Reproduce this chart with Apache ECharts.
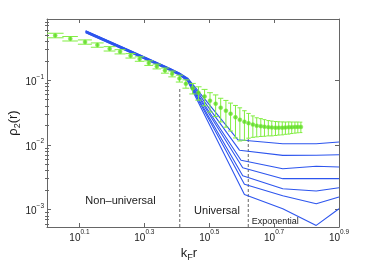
<!DOCTYPE html>
<html><head><meta charset="utf-8">
<script src="https://cdn.jsdelivr.net/npm/echarts@6/dist/echarts.min.js"></script>
<style>html,body{margin:0;padding:0;background:#fff}#c{width:366px;height:268px}</style>
</head><body><div id="c"></div>
<script>
// ---- axis ranges / ticks (exponents of 10) ----
const xLogRange = [0, 0.9];
const yLogRange = [-3.271, -0.051];
const xTickExps = [0.1, 0.3, 0.5, 0.7, 0.9];
const yTickExps = [-3, -2, -1];

// ---- measured data (green, with error bars) ----
const dataR = [1.06, 1.18, 1.31, 1.43, 1.56, 1.68, 1.81, 1.93, 2.06, 2.18, 2.31, 2.43, 2.56, 2.68, 2.81, 2.93, 3.06, 3.18, 3.31, 3.43, 3.56, 3.68, 3.81, 3.93, 4.06, 4.18, 4.31, 4.43, 4.56, 4.68, 4.81, 4.93, 5.06, 5.18, 5.31, 5.43, 5.56, 5.68, 5.81, 5.93, 6.06];
const dataRho = [0.495, 0.441, 0.392, 0.352, 0.308, 0.277, 0.240, 0.214, 0.185, 0.164, 0.142, 0.126, 0.107, 0.0885, 0.0755, 0.0643, 0.0563, 0.0483, 0.0434, 0.0377, 0.0338, 0.0304, 0.0268, 0.0245, 0.0228, 0.0217, 0.0206, 0.0198, 0.0195, 0.0191, 0.0188, 0.0186, 0.0185, 0.0185, 0.0185, 0.0186, 0.0187, 0.0188, 0.0189, 0.0190, 0.0190];
const dataErr = [0.04, 0.035, 0.03, 0.027, 0.024, 0.021, 0.019, 0.017, 0.015, 0.014, 0.013, 0.013, 0.013, 0.013, 0.014, 0.015, 0.016, 0.016, 0.016, 0.015, 0.015, 0.014, 0.014, 0.013, 0.011, 0.009, 0.0075, 0.0065, 0.006, 0.0055, 0.005, 0.0048, 0.0045, 0.0043, 0.0042, 0.004, 0.004, 0.0038, 0.0037, 0.0036, 0.0035];
const capHalfWidth = 0.065;

// ---- model curves (blue) ----
const trunkR = [1.316, 1.798, 2.389, 2.566, 2.715];
const kinkR = [3.872, 3.919, 3.963, 4.011, 4.011, 4.060, 4.060];
const tailR = [5.329, 6.758, 7.943];
const rho1 = [0.5855, 0.2924, 0.1538, 0.1288, 0.1078, 0.01204, 0.01044, 0.01044, 0.01109];
const rho2 = [0.5788, 0.2890, 0.1521, 0.1273, 0.1059, 0.00828, 0.006879, 0.006928, 0.007052];
const rho3 = [0.5720, 0.2856, 0.1503, 0.1258, 0.1040, 0.00580, 0.00428, 0.00468, 0.00455];
const rho4 = [0.5652, 0.2822, 0.1485, 0.1243, 0.1022, 0.00444, 0.00300, 0.00300, 0.00300];
const rho5 = [0.5584, 0.2788, 0.1467, 0.1228, 0.1003, 0.003336, 0.002099, 0.001934, 0.002175];
const rho6 = [0.5516, 0.2754, 0.1449, 0.1213, 0.0986, 0.002464, 0.001635, 0.00123, 0.001561];
const rho7 = [0.5449, 0.2720, 0.1432, 0.1198, 0.0969, 0.001713, 0.001029, 0.000567, 0.001029];
const modelRho = [rho1, rho2, rho3, rho4, rho5, rho6, rho7];

// ---- region boundaries (dashed) ----
const dashedR = [2.566, 4.172];
const dashedTop = [0.0782, 0.01315];

const L = Math.log10;
const FONT = '"Liberation Sans", Arial, Helvetica, sans-serif';
const AX = '#666';
const TXT = '#1a1a1a';
const BLUE = '#2d55ee';
const GREEN = '#80ee40';
const GREEN_DOT = '#5ad822';

const minorY = [];
for (let k = -4; k <= -1; k++) {
  for (let m = 2; m <= 9; m++) {
    const v = L(m) + k;
    if (v > yLogRange[0] && v < yLogRange[1]) minorY.push(v);
  }
}

const richLbl = {
  b: {fontSize: 10, lineHeight: 14, verticalAlign: 'bottom', fontFamily: FONT, color: TXT},
  s: {fontSize: 6.5, verticalAlign: 'top', fontFamily: FONT, color: TXT}
};
const fmtExp = v => '{b|10}{s|' + (Math.abs(v - Math.round(v)) < 1e-9 ? String(Math.round(v)).replace('-', '\u2212') : v.toFixed(1)) + '}';

function axisBase(extra) {
  return Object.assign({
    type: 'value',
    axisLine: {show: true, onZero: false, lineStyle: {color: AX, width: 1}},
    splitLine: {show: false},
    axisTick: {show: true, inside: true, length: 4, lineStyle: {color: AX, width: 1}},
    axisLabel: {show: false}
  }, extra);
}

const xAxes = [
  axisBase({position: 'bottom', min: xLogRange[0], max: xLogRange[1],
    axisTick: {show: true, inside: true, length: 4, lineStyle: {color: AX}, customValues: xTickExps},
    axisLabel: {show: true, customValues: xTickExps, formatter: fmtExp, rich: richLbl, margin: 2, showMinLabel: true, showMaxLabel: true}}),
  axisBase({position: 'top', min: xLogRange[0], max: xLogRange[1],
    axisTick: {show: true, inside: true, length: 4, lineStyle: {color: AX}, customValues: xTickExps}})
];
const yAxes = [
  axisBase({position: 'left', min: yLogRange[0], max: yLogRange[1],
    axisTick: {show: true, inside: true, length: 4, lineStyle: {color: AX}, customValues: yTickExps},
    axisLabel: {show: true, customValues: yTickExps, formatter: fmtExp, rich: richLbl, margin: 3}}),
  axisBase({position: 'right', min: yLogRange[0], max: yLogRange[1],
    axisTick: {show: true, inside: true, length: 4, lineStyle: {color: AX}, customValues: yTickExps}}),
  axisBase({position: 'left', min: yLogRange[0], max: yLogRange[1], axisLine: {show: false},
    axisTick: {show: true, inside: true, length: 2, lineStyle: {color: AX}, customValues: minorY}}),
  axisBase({position: 'right', min: yLogRange[0], max: yLogRange[1], axisLine: {show: false},
    axisTick: {show: true, inside: true, length: 2, lineStyle: {color: AX}, customValues: minorY}})
];

const series = [];
modelRho.forEach((rho, i) => {
  const rs = trunkR.concat([kinkR[i]], tailR);
  series.push({
    type: 'line', xAxisIndex: 0, yAxisIndex: 0, showSymbol: false, symbol: 'none', clip: true,
    data: rs.map((r, j) => [L(r), L(rho[j])]),
    lineStyle: {color: BLUE, width: 1.1}, z: 2, silent: true
  });
});
dashedR.forEach((r, i) => {
  series.push({
    type: 'line', showSymbol: false, symbol: 'none', clip: true,
    data: [[L(r), yLogRange[0]], [L(r), L(dashedTop[i])]],
    lineStyle: {color: '#666', width: 1, type: [3, 2]}, z: 1, silent: true
  });
});
series.push({
  type: 'custom', clip: true, z: 4, silent: true,
  data: dataR.map((r, i) => [L(r), L(dataRho[i]), r, dataRho[i], dataErr[i]]),
  encode: {x: 0, y: 1},
  renderItem: function (params, api) {
    const r = api.value(2), y = api.value(3), e = api.value(4);
    const top = api.coord([L(r), L(y + e)]);
    const bot = api.coord([L(r), L(y - e)]);
    const xl = api.coord([L(r - capHalfWidth), L(y)])[0];
    const xr = api.coord([L(r + capHalfWidth), L(y)])[0];
    const st = {stroke: GREEN, lineWidth: 1};
    return {type: 'group', children: [
      {type: 'line', shape: {x1: top[0], y1: top[1], x2: bot[0], y2: bot[1]}, style: st},
      {type: 'line', shape: {x1: xl, y1: top[1], x2: xr, y2: top[1]}, style: st},
      {type: 'line', shape: {x1: xl, y1: bot[1], x2: xr, y2: bot[1]}, style: st}
    ]};
  }
});
series.push({
  type: 'scatter', z: 5, silent: true, clip: true,
  data: dataR.map((r, i) => [L(r), L(dataRho[i])]),
  symbol: 'circle', symbolSize: 4,
  itemStyle: {color: GREEN_DOT, borderColor: GREEN, borderWidth: 0.6}
});

const chart = echarts.init(document.getElementById('c'), null, {renderer: 'canvas'});
chart.setOption({
  animation: false,
  backgroundColor: '#fff',
  grid: {left: 47, top: 19, width: 292, height: 208, containLabel: false},
  xAxis: xAxes,
  yAxis: yAxes,
  series: series,
  graphic: [
    {type: 'text', x: 120.5, y: 200.5, style: {text: 'Non\u2013universal', font: '11px ' + FONT, fill: TXT, align: 'center', verticalAlign: 'middle'}},
    {type: 'text', x: 217, y: 210.7, style: {text: 'Universal', font: '11px ' + FONT, fill: TXT, align: 'center', verticalAlign: 'middle'}},
    {type: 'text', x: 275.3, y: 221.8, style: {text: 'Exponential', font: '9px ' + FONT, fill: TXT, align: 'center', verticalAlign: 'middle'}},
    {type: 'text', x: 189, y: 253, style: {text: 'k{s|F}r', fontSize: 13, fontFamily: FONT, lineHeight: 18, fill: TXT, align: 'center', verticalAlign: 'middle',
      rich: {s: {fontSize: 9, fontFamily: FONT, verticalAlign: 'bottom', fill: TXT}}}},
    {type: 'text', x: 13, y: 123, rotation: Math.PI / 2, style: {text: '\u03c1{s|2}(r)', fontSize: 13, fontFamily: FONT, lineHeight: 18, fill: TXT, align: 'center', verticalAlign: 'middle',
      rich: {s: {fontSize: 9, fontFamily: FONT, verticalAlign: 'bottom', fill: TXT}}}}
  ]
});
</script></body></html>
